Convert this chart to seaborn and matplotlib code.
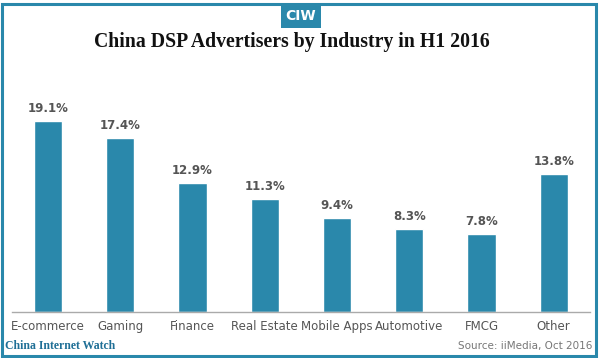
import matplotlib
matplotlib.use("Agg")
import matplotlib.pyplot as plt
import seaborn as sns
import pandas as pd
from matplotlib.patches import Rectangle

industries = ["E-commerce", "Gaming", "Finance", "Real Estate",
              "Mobile Apps", "Automotive", "FMCG", "Other"]
shares = [19.1, 17.4, 12.9, 11.3, 9.4, 8.3, 7.8, 13.8]

TEAL = "#2a88ab"
GRAY = "#555555"

sns.set_theme(style="white")
plt.rcParams["font.family"] = ["DejaVu Sans"]

df = pd.DataFrame({"Industry": industries, "Share": shares})

fig = plt.figure(figsize=(6, 3.58), dpi=100)
ax = fig.add_axes([0.02, 0.1285, 0.963, 0.592])

sns.barplot(data=df, x="Industry", y="Share", color=TEAL, width=0.39,
            saturation=1, ax=ax)

ax.set_xlim(-0.5, len(industries) - 0.5)
ax.set_ylim(0, 21.2)
ax.set_yticks([])
ax.set_xlabel("")
ax.set_ylabel("")
for side in ["top", "right", "left"]:
    ax.spines[side].set_visible(False)
ax.spines["bottom"].set_color("#aaaaaa")
ax.spines["bottom"].set_linewidth(1)
ax.tick_params(axis="x", length=0, pad=6, labelsize=8.5, labelcolor=GRAY)

for i, v in enumerate(shares):
    ax.text(i, v + 0.6, f"{v}%", ha="center", va="bottom",
            fontsize=8.5, color=GRAY, fontweight="bold")

# frame and header
fig.patches.append(Rectangle((0.004, 0.006), 0.99, 0.984, transform=fig.transFigure,
                             fill=False, edgecolor=TEAL, linewidth=2.2))
fig.patches.append(Rectangle((281 / 600, 1 - 28 / 358), 40 / 600, 23 / 358,
                             transform=fig.transFigure, facecolor=TEAL,
                             edgecolor="none"))
fig.text(301 / 600, 1 - 16.5 / 358, "CIW", ha="center", va="center",
         color="white", fontsize=10, fontweight="bold", family="DejaVu Sans Condensed")
fig.text(292 / 600, 1 - 42 / 358, "China DSP Advertisers by Industry in H1 2016",
         ha="center", va="center", fontsize=14.2, fontweight="bold",
         family="Liberation Serif", color="#111111")

# footer
fig.text(5 / 600, 1 - 346 / 358, "China Internet Watch", ha="left", va="center",
         fontsize=8.5, fontweight="bold", family="Liberation Serif", color="#1f6f96")
fig.text(592 / 600, 1 - 346 / 358, "Source: iiMedia, Oct 2016", ha="right",
         va="center", fontsize=7.5, color="#777777")

fig.savefig("out.png", dpi=100)
